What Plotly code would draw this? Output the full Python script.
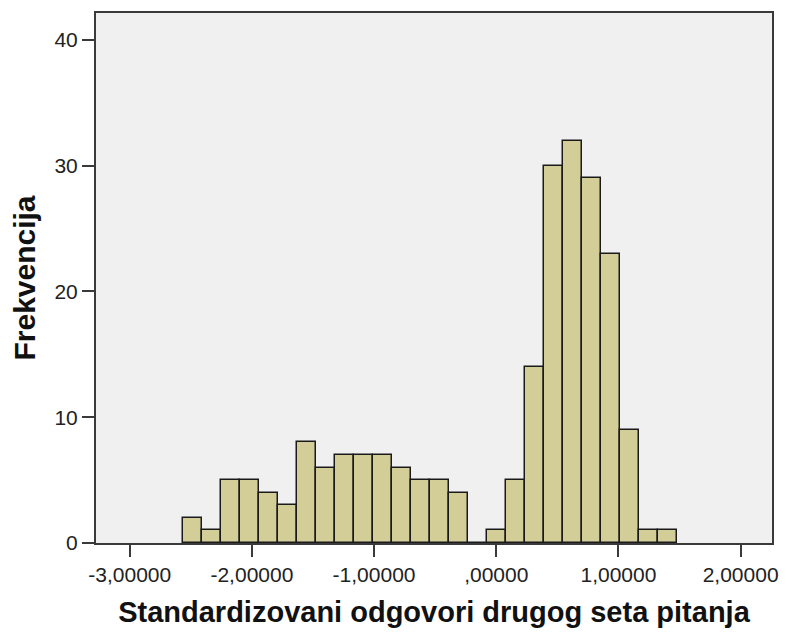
import numpy as np
import plotly.graph_objects as go

# Data
bin_start = -2.568
bin_width = 0.1557
counts = [2, 1, 5, 5, 4, 3, 8, 6, 7, 7, 7, 6, 5, 5, 4,
          0,
          1, 5, 14, 30, 32, 29, 23, 9, 1, 1]

x_tickvals = [-3, -2, -1, 0, 1, 2]
x_ticktext = ["-3,00000", "-2,00000", "-1,00000", ",00000", "1,00000", "2,00000"]
y_tickvals = [0, 10, 20, 30, 40]
y_ticktext = ["0", "10", "20", "30", "40"]

x_title = "Standardizovani odgovori drugog seta pitanja"
y_title = "Frekvencija"

centers = bin_start + bin_width * (np.arange(len(counts)) + 0.5)

fig = go.Figure()
fig.add_trace(go.Bar(
    x=centers,
    y=counts,
    width=bin_width,
    marker=dict(color="#D3CE97", line=dict(color="#1a1a1a", width=1.5)),
    hoverinfo="x+y",
))

font_family = "Liberation Sans, Arial, sans-serif"

fig.update_layout(
    width=786,
    height=634,
    margin=dict(l=96, r=8, t=13, b=91),
    paper_bgcolor="white",
    plot_bgcolor="#F0F0F0",
    showlegend=False,
    bargap=0,
    font=dict(family=font_family, color="#222222"),
)

fig.update_xaxes(
    range=[-3.276, 2.257],
    tickmode="array",
    tickvals=x_tickvals,
    ticktext=x_ticktext,
    ticks="outside",
    ticklen=12,
    tickwidth=2,
    tickcolor="#3a3a3a",
    tickfont=dict(size=21, family=font_family, color="#222222"),
    showgrid=False,
    zeroline=False,
    showline=True,
    linecolor="#3a3a3a",
    linewidth=2,
    mirror=True,
    title=dict(text=x_title, font=dict(size=29, family=font_family, color="#111111", weight="bold"), standoff=16),
)

fig.update_yaxes(
    range=[0, 42.14],
    tickmode="array",
    tickvals=y_tickvals,
    ticktext=y_ticktext,
    ticks="outside",
    ticklen=12,
    tickwidth=2,
    tickcolor="#3a3a3a",
    tickfont=dict(size=21, family=font_family, color="#222222"),
    showgrid=False,
    zeroline=False,
    showline=True,
    linecolor="#3a3a3a",
    linewidth=2,
    mirror=True,
    title=dict(text=y_title, font=dict(size=30, family=font_family, color="#111111", weight="bold"), standoff=10),
)

fig.write_html("out.html")
